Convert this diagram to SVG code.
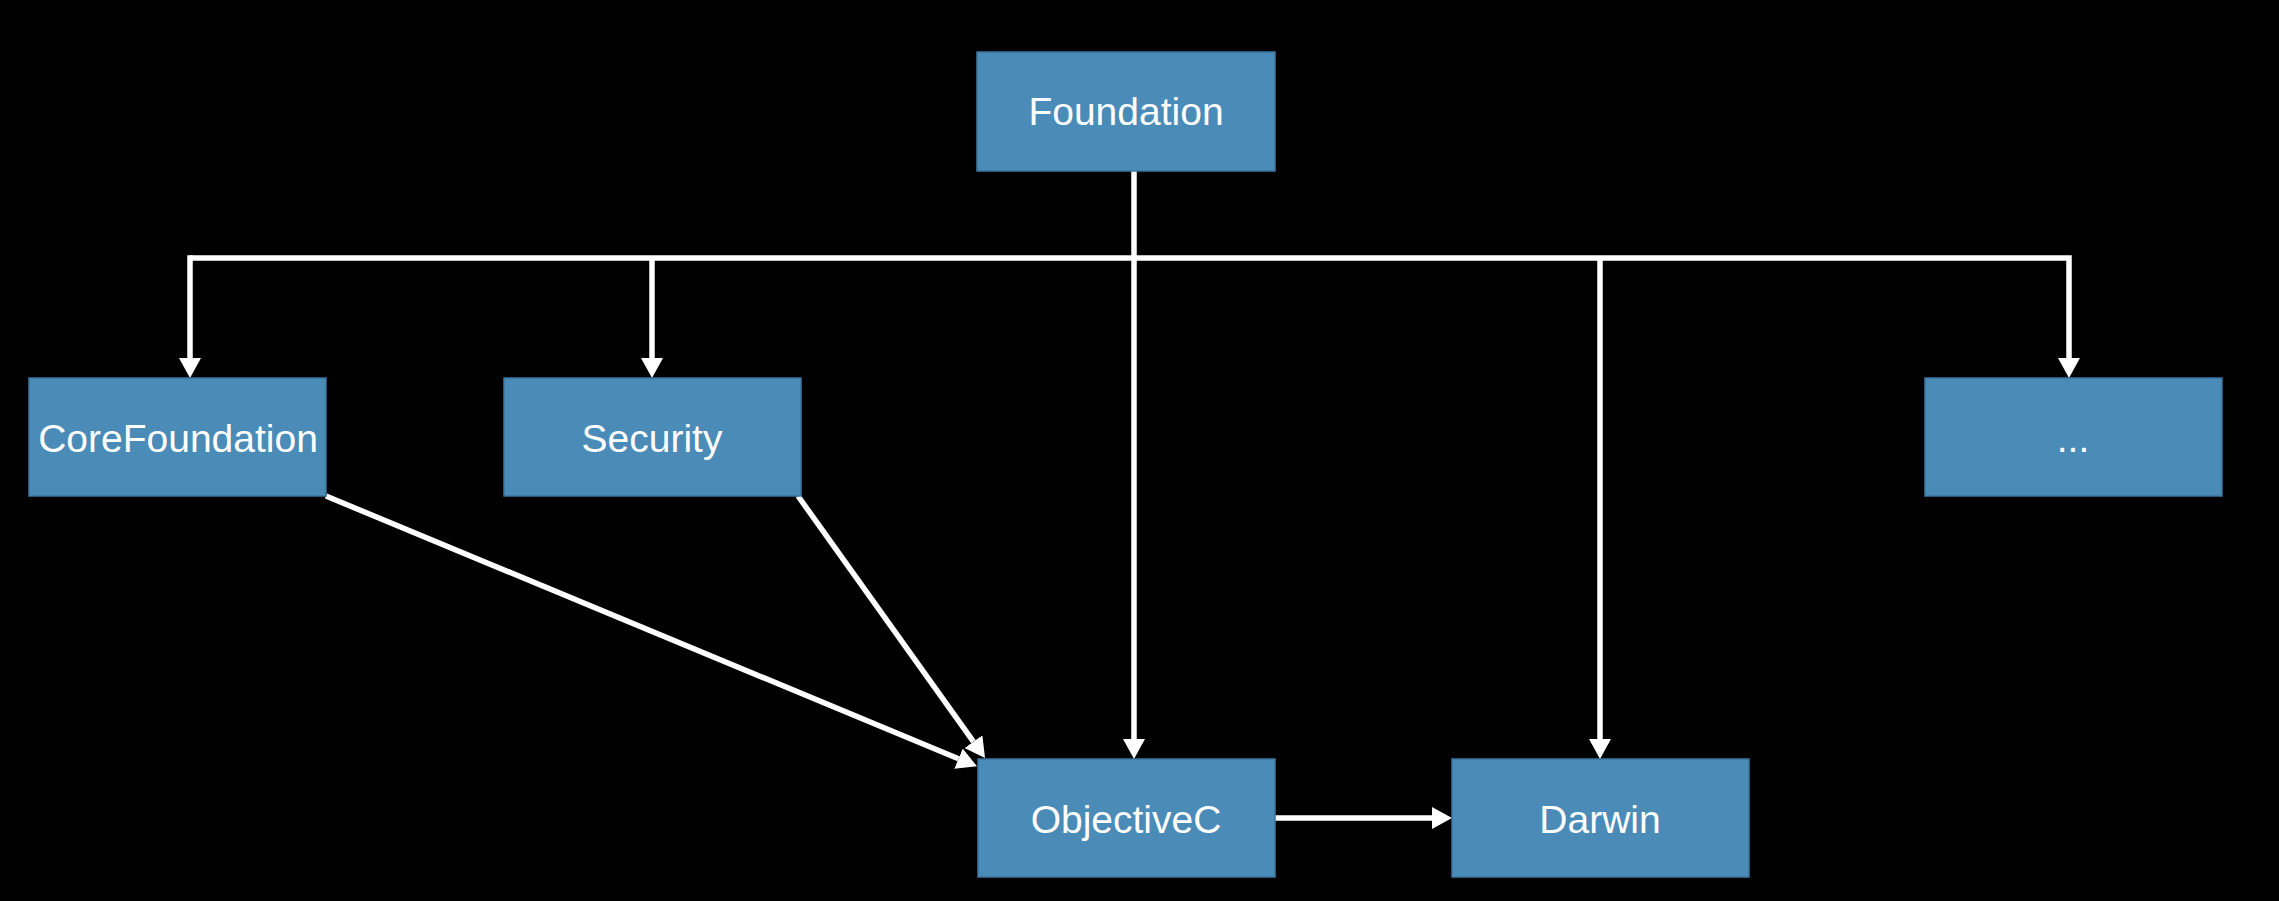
<svg xmlns="http://www.w3.org/2000/svg" width="2279" height="901" viewBox="0 0 2279 901">
  <style>
    .box { fill: #4a8bb8; stroke: #3d769e; stroke-width: 1.5; }
    .lbl { font-family: "Liberation Sans", Arial, sans-serif; font-size: 39px; fill: #ffffff; text-anchor: middle; }
    .edge { fill: none; stroke: #ffffff; stroke-width: 5.5; }
  </style>
  <defs>
    <marker id="arrow" viewBox="0 0 20 22" refX="0" refY="11" markerWidth="20" markerHeight="22" markerUnits="userSpaceOnUse" orient="auto">
      <path d="M0,0 L20,11 L0,22 z" fill="#ffffff"/>
    </marker>
  </defs>
  <rect x="0" y="0" width="2279" height="901" fill="#000000"/>

  <g id="connectors">
    <path class="edge" d="M1134,171 L1134,739" marker-end="url(#arrow)"/>
    <path class="edge" d="M190,258 L2069,258 L2069,358" marker-end="url(#arrow)"/>
    <path class="edge" d="M190,255.25 L190,358" marker-end="url(#arrow)"/>
    <path class="edge" d="M652,258 L652,358" marker-end="url(#arrow)"/>
    <path class="edge" d="M1600,258 L1600,739" marker-end="url(#arrow)"/>
    <path class="edge" d="M1275,818 L1432,818" marker-end="url(#arrow)"/>
    <path class="edge" d="M326,496 L958.5,758.7" marker-end="url(#arrow)"/>
    <path class="edge" d="M798,496 L973.4,741.7" marker-end="url(#arrow)"/>
  </g>

  <g id="node-foundation">
    <rect class="box" x="977" y="52" width="298" height="119"/>
    <text class="lbl" x="1126" y="125">Foundation</text>
  </g>
  <g id="node-corefoundation">
    <rect class="box" x="29" y="378" width="297" height="118"/>
    <text class="lbl" x="178" y="452">CoreFoundation</text>
  </g>
  <g id="node-security">
    <rect class="box" x="504" y="378" width="297" height="118"/>
    <text class="lbl" x="652" y="452">Security</text>
  </g>
  <g id="node-more">
    <rect class="box" x="1925" y="378" width="297" height="118"/>
    <text class="lbl" x="2073" y="452">...</text>
  </g>
  <g id="node-objectivec">
    <rect class="box" x="978" y="759" width="297" height="118"/>
    <text class="lbl" x="1126" y="833">ObjectiveC</text>
  </g>
  <g id="node-darwin">
    <rect class="box" x="1452" y="759" width="297" height="118"/>
    <text class="lbl" x="1600" y="833">Darwin</text>
  </g>
</svg>
